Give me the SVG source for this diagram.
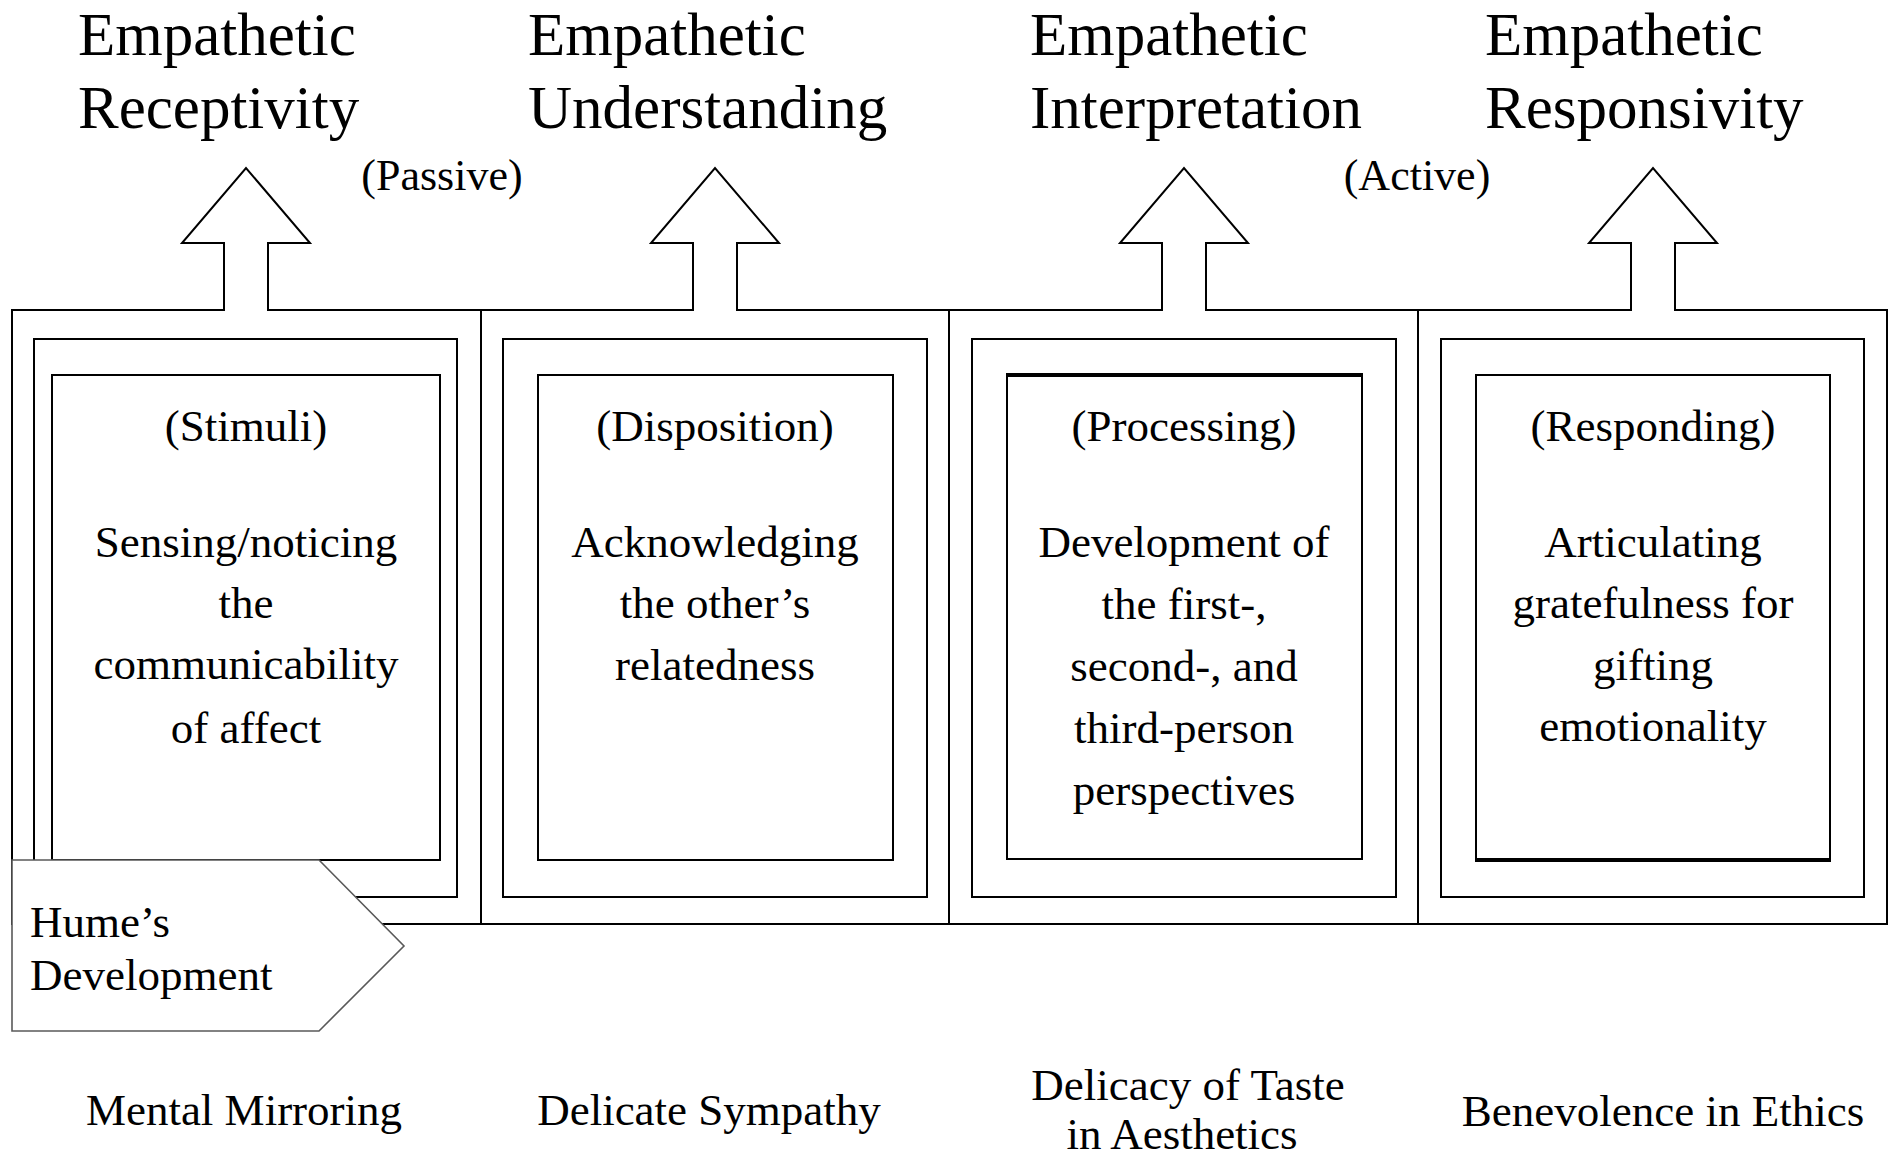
<svg xmlns="http://www.w3.org/2000/svg" width="1895" height="1160" viewBox="0 0 1895 1160">
<style>
  .frame { fill: none; stroke: #000; stroke-width: 2; stroke-linejoin: miter; }
  .box { fill: none; stroke: #000; stroke-width: 2; }
  .thick { stroke: #000; stroke-width: 4; }
  .t { font-family: "Liberation Serif", "Times New Roman", serif; fill: #000; }
  .title { font-size: 61px; }
  .body { font-size: 45px; text-anchor: middle; }
  .tag { font-size: 44px; }
  .hume { fill: #fff; stroke: #595959; stroke-width: 1.6; }
</style>
<rect width="1895" height="1160" fill="#fff"/>

<g id="titles">
  <text class="t title" x="78" y="55">Empathetic</text>
  <text class="t title" x="78" y="128">Receptivity</text>
  <text class="t title" x="528" y="55">Empathetic</text>
  <text class="t title" x="528" y="128">Understanding</text>
  <text class="t title" x="1030" y="55">Empathetic</text>
  <text class="t title" x="1030" y="128">Interpretation</text>
  <text class="t title" x="1485" y="55">Empathetic</text>
  <text class="t title" x="1485" y="128">Responsivity</text>
  <text class="t tag" x="442" y="190" text-anchor="middle">(Passive)</text>
  <text class="t tag" x="1417" y="190" text-anchor="middle">(Active)</text>
</g>

<g id="connectors">
  <!-- outer panel frames merged with up arrows -->
  <path class="frame" d="M12,924 V310 H224 V243 H182 L246,168 L310,243 H268 V310 H481 V924 Z"/>
  <path class="frame" d="M481,924 V310 H693 V243 H651 L715,168 L779,243 H737 V310 H949 V924 Z"/>
  <path class="frame" d="M949,924 V310 H1162 V243 H1120 L1184,168 L1248,243 H1206 V310 H1418 V924 Z"/>
  <path class="frame" d="M1418,924 V310 H1631 V243 H1589 L1653,168 L1717,243 H1675 V310 H1887 V924 Z"/>
</g>

<g id="node-stimuli">
  <rect class="box" x="34" y="339" width="423" height="558"/>
  <rect class="box" x="52" y="375" width="388" height="485"/>
  <text class="t body" x="246" y="441">(Stimuli)</text>
  <text class="t body" x="246" y="557">Sensing/noticing</text>
  <text class="t body" x="246" y="618">the</text>
  <text class="t body" x="246" y="679">communicability</text>
  <text class="t body" x="246" y="743">of affect</text>
</g>

<g id="node-disposition">
  <rect class="box" x="503" y="339" width="424" height="558"/>
  <rect class="box" x="538" y="375" width="355" height="485"/>
  <text class="t body" x="715" y="441">(Disposition)</text>
  <text class="t body" x="715" y="557">Acknowledging</text>
  <text class="t body" x="715" y="618">the other’s</text>
  <text class="t body" x="715" y="680">relatedness</text>
</g>

<g id="node-processing">
  <rect class="box" x="972" y="339" width="424" height="558"/>
  <rect class="box" x="1007" y="375" width="355" height="484"/>
  <line class="thick" x1="1006" y1="375" x2="1363" y2="375"/>
  <text class="t body" x="1184" y="441">(Processing)</text>
  <text class="t body" x="1184" y="557">Development of</text>
  <text class="t body" x="1184" y="619">the first-,</text>
  <text class="t body" x="1184" y="681">second-, and</text>
  <text class="t body" x="1184" y="743">third-person</text>
  <text class="t body" x="1184" y="805">perspectives</text>
</g>

<g id="node-responding">
  <rect class="box" x="1441" y="339" width="423" height="558"/>
  <rect class="box" x="1476" y="375" width="354" height="485"/>
  <line class="thick" x1="1475" y1="860" x2="1831" y2="860"/>
  <text class="t body" x="1653" y="441">(Responding)</text>
  <text class="t body" x="1653" y="557">Articulating</text>
  <text class="t body" x="1653" y="618">gratefulness for</text>
  <text class="t body" x="1653" y="680">gifting</text>
  <text class="t body" x="1653" y="741">emotionality</text>
</g>

<g id="node-hume">
  <polygon class="hume" points="12,860 319,860 404,946 319,1031 12,1031"/>
  <text class="t" x="30" y="937" font-size="45">Hume’s</text>
  <text class="t" x="30" y="990" font-size="45">Development</text>
</g>

<g id="bottom-labels">
  <text class="t body" x="244" y="1125">Mental Mirroring</text>
  <text class="t body" x="709" y="1125">Delicate Sympathy</text>
  <text class="t body" x="1188" y="1100">Delicacy of Taste</text>
  <text class="t body" x="1182" y="1149">in Aesthetics</text>
  <text class="t body" x="1663" y="1126">Benevolence in Ethics</text>
</g>
</svg>
